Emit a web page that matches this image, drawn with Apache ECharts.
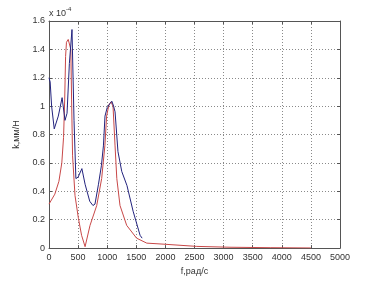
<!DOCTYPE html>
<html><head><meta charset="utf-8">
<script src="https://cdn.jsdelivr.net/npm/echarts@6/dist/echarts.min.js"></script>
<style>html,body{margin:0;padding:0;background:#fff}#c{width:375px;height:281px}</style>
</head><body><div id="c"></div>
<script>
// values in units of 1e-4 mm/N
const blueF = [0, 20, 45, 90, 110, 160, 225, 275, 310, 350, 395, 430, 462, 500, 565, 620, 700, 755, 790, 850, 900, 935, 962, 1000, 1050, 1080, 1110, 1135, 1185, 1250, 1340, 1445, 1565, 1600];
const blueK = [1.20, 1.17, 1.00, 0.84, 0.84, 0.93, 1.06, 0.90, 0.95, 1.30, 1.54, 0.90, 0.49, 0.50, 0.56, 0.45, 0.33, 0.30, 0.31, 0.45, 0.58, 0.72, 0.93, 0.99, 1.02, 1.035, 1.00, 0.96, 0.68, 0.54, 0.44, 0.26, 0.09, 0.07];
const redF = [0, 100, 170, 220, 250, 270, 285, 300, 330, 360, 375, 388, 405, 447, 505, 560, 620, 705, 820, 905, 960, 990, 1030, 1065, 1100, 1135, 1165, 1220, 1335, 1505, 1680, 1960, 2540, 3110, 3800, 4500];
const redK = [0.31, 0.38, 0.47, 0.60, 0.78, 1.05, 1.35, 1.45, 1.47, 1.48, 1.40, 1.05, 0.65, 0.37, 0.21, 0.09, 0.01, 0.16, 0.30, 0.49, 0.72, 0.93, 1.01, 1.03, 1.00, 0.72, 0.49, 0.30, 0.16, 0.07, 0.035, 0.028, 0.012, 0.006, 0.003, 0.001];
const xTicks = [0, 500, 1000, 1500, 2000, 2500, 3000, 3500, 4000, 4500, 5000];
const yTicks = [0, 0.2, 0.4, 0.6, 0.8, 1, 1.2, 1.4, 1.6];

const chart = echarts.init(document.getElementById('c'), null, {renderer: 'canvas'});
const font = 'Liberation Sans, Arial, sans-serif';
const gridLine = {show: true, lineStyle: {color: '#8a8a8a', width: 1, type: [1, 2]}};
const axLine = {show: true, onZero: false, lineStyle: {color: '#555', width: 1}};
const tick = {show: true, inside: true, length: 3, lineStyle: {color: '#555'}};
const lbl = {color: '#333', fontSize: 9, fontFamily: font};
const zip = (a, b) => a.map((v, i) => [v, b[i]]);
chart.setOption({
  animation: false,
  backgroundColor: '#fff',
  grid: {left: 49, top: 21, right: 35, bottom: 31},
  xAxis: [
    {type: 'value', min: xTicks[0], max: xTicks[xTicks.length - 1], interval: xTicks[1] - xTicks[0], position: 'bottom',
     name: 'f,рад/с', nameLocation: 'middle', nameGap: 17,
     nameTextStyle: {color: '#333', fontSize: 9, fontFamily: font},
     axisLine: axLine, axisTick: tick, splitLine: gridLine,
     axisLabel: Object.assign({margin: 5, formatter: v => String(v)}, lbl)},
    {type: 'value', min: xTicks[0], max: xTicks[xTicks.length - 1], interval: xTicks[1] - xTicks[0], position: 'top',
     axisLine: axLine, axisTick: tick, splitLine: {show: false}, axisLabel: {show: false}}
  ],
  yAxis: [
    {type: 'value', min: yTicks[0], max: yTicks[yTicks.length - 1], interval: 0.2, position: 'left',
     name: 'k,мм/Н', nameLocation: 'middle', nameGap: 28, nameRotate: 90,
     nameTextStyle: {color: '#333', fontSize: 9, fontFamily: font},
     axisLine: axLine, axisTick: tick, splitLine: gridLine,
     axisLabel: Object.assign({margin: 4, formatter: v => String(+v.toFixed(1))}, lbl)},
    {type: 'value', min: yTicks[0], max: yTicks[yTicks.length - 1], interval: 0.2, position: 'right',
     axisLine: axLine, axisTick: tick, splitLine: {show: false}, axisLabel: {show: false}}
  ],
  graphic: [{
    type: 'text', left: 49, top: 6,
    style: {text: '{a|x 10}{b|-4}', rich: {
      a: {fontSize: 9, fontFamily: font, fill: '#333', padding: [4, 0, 0, 0]},
      b: {fontSize: 6, fontFamily: font, fill: '#333', padding: [0, 0, 6, 0]}}}
  }],
  series: [
    {type: 'line', data: zip(redF, redK), showSymbol: false, symbol: 'none',
     lineStyle: {color: '#c84848', width: 1}},
    {type: 'line', data: zip(blueF, blueK), showSymbol: false, symbol: 'none',
     lineStyle: {color: '#23237e', width: 1}}
  ]
});
</script></body></html>
